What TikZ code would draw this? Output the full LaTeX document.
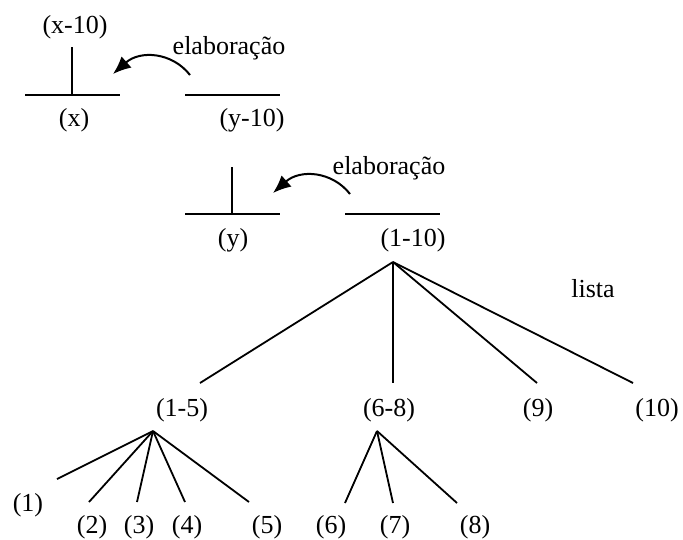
\documentclass[tikz,border=0pt]{standalone}
\usepackage{fontspec}
\setmainfont{Liberation Serif}
\usetikzlibrary{arrows.meta}
\begin{document}
\begin{tikzpicture}[x=1pt,y=-1pt,
  lbl/.style={inner sep=0pt,font=\fontsize{26}{30}\selectfont},
  bar/.style={line width=2.2pt},
  edge/.style={line width=1.8pt},
  elab/.style={line width=2pt,-{Latex[length=18pt,width=15pt]}}]
\useasboundingbox (0,0) rectangle (683,539);
% group 1
\node[lbl] (xten) at (75,27) {(x-10)};
\node[lbl] (x) at (74,120) {(x)};
\node[lbl] (yten) at (252,120) {(y-10)};
\node[lbl] (el1) at (229,48) {elaboração};
\coordinate (xl) at (25,95); \coordinate (xr) at (120,95);
\coordinate (xm) at (72,95); \coordinate (xt) at (72,47);
\coordinate (yl) at (185,95); \coordinate (yr) at (280,95);
\draw[bar] (xl) -- (xr);
\draw[bar] (xm) -- (xt);
\draw[bar] (yl) -- (yr);
\coordinate (a1s) at (190,75); \coordinate (a1e) at (113,74);
\draw[elab] (a1s) .. controls (172,52) and (140,50) .. (a1e);
% group 2
\node[lbl] (y) at (233,240) {(y)};
\node[lbl] (oneten) at (413,240) {(1-10)};
\node[lbl] (el2) at (389,168) {elaboração};
\coordinate (yyl) at (185,214); \coordinate (yyr) at (280,214);
\coordinate (yym) at (232,214); \coordinate (yyt) at (232,167);
\coordinate (zl) at (345,214); \coordinate (zr) at (440,214);
\draw[bar] (yyl) -- (yyr);
\draw[bar] (yym) -- (yyt);
\draw[bar] (zl) -- (zr);
\coordinate (a2s) at (350,194); \coordinate (a2e) at (273,193);
\draw[elab] (a2s) .. controls (332,171) and (300,169) .. (a2e);
% top tree
\coordinate (top) at (393,262);
\node[lbl] (lista) at (593,289) {lista};
\node[lbl] (n15) at (182,410) {(1-5)};
\node[lbl] (n68) at (389,410) {(6-8)};
\node[lbl] (n9) at (538,410) {(9)};
\node[lbl] (n10) at (657,410) {(10)};
\coordinate (e15) at (200,383);
\coordinate (e68) at (393,383);
\coordinate (e9) at (537,383);
\coordinate (e10) at (633,383);
\draw[edge] (top) -- (e15);
\draw[edge] (top) -- (e68);
\draw[edge] (top) -- (e9);
\draw[edge] (top) -- (e10);
% subtree 1-5
\coordinate (t15) at (153,431);
\coordinate (c1) at (57,479);
\coordinate (c2) at (89,502);
\coordinate (c3) at (137,502);
\coordinate (c4) at (185,502);
\coordinate (c5) at (249,502);
\foreach \c in {c1,c2,c3,c4,c5} \draw[edge] (t15) -- (\c);
\node[lbl] (l1) at (28,505) {(1)};
\node[lbl] (l2) at (92,527) {(2)};
\node[lbl] (l3) at (139,527) {(3)};
\node[lbl] (l4) at (187,527) {(4)};
\node[lbl] (l5) at (267,527) {(5)};
% subtree 6-8
\coordinate (t68) at (377,431);
\coordinate (c6) at (345,503);
\coordinate (c7) at (393,503);
\coordinate (c8) at (457,503);
\foreach \c in {c6,c7,c8} \draw[edge] (t68) -- (\c);
\node[lbl] (l6) at (331,527) {(6)};
\node[lbl] (l7) at (395,527) {(7)};
\node[lbl] (l8) at (475,527) {(8)};
\end{tikzpicture}
\end{document}
